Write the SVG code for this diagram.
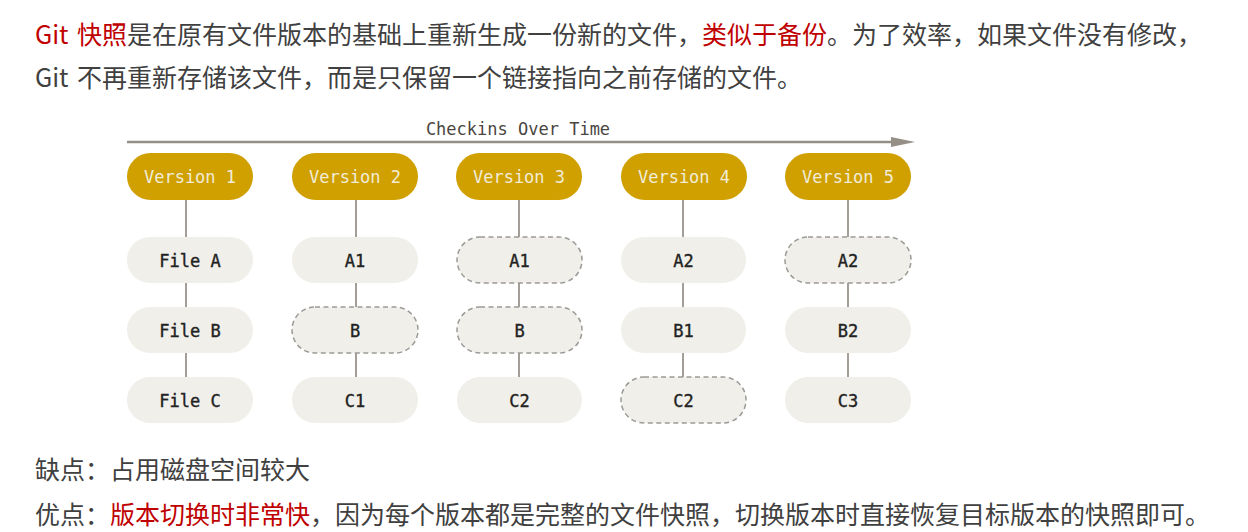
<svg xmlns="http://www.w3.org/2000/svg" width="1248" height="532" viewBox="0 0 1248 532">
<style>
.para{font-family:"Noto Sans CJK SC","Noto Sans",sans-serif;font-size:25px;fill:#404040}
.red{fill:#c00000}
.ver rect{fill:#cfa000}
.ver text{font-family:"DejaVu Sans Mono",monospace;font-size:17px;fill:#f2ecd8;text-anchor:middle}
.file rect{fill:#f0efe9}
.file.dash rect{stroke:#9c9a96;stroke-width:1.5;stroke-dasharray:5 3.5}
.file text{font-family:"DejaVu Sans Mono",monospace;font-size:17px;fill:#222222;stroke:#222222;stroke-width:0.35;text-anchor:middle}
.conn line{stroke:#a39e98;stroke-width:2}
.axis{stroke:#958f88;stroke-width:2.5}
.title{font-family:"DejaVu Sans Mono",monospace;font-size:17px;fill:#4a4540;text-anchor:middle}
</style>
<rect width="1248" height="532" fill="#ffffff"/>
<g id="intro">
<text class="para" y="44"><tspan x="35" class="red">Git</tspan><tspan x="77" class="red">快照</tspan>是在原有文件版本的基础上重新生成一份新的文件，<tspan class="red">类似于备份</tspan>。为了效率，如果文件没有修改，</text>
<text class="para" y="87"><tspan x="35">Git</tspan><tspan x="77">不再重新存储该文件，而是只保留一个链接指向之前存储的文件。</tspan></text>
</g>
<g id="timeline">
<line class="axis" x1="127" y1="142" x2="893" y2="142"/>
<path d="M891,137 L915,142 L891,147 z" fill="#958f88"/>
<text class="title" x="518" y="135">Checkins Over Time</text>
</g>
<g id="connectors" class="conn">
<line x1="186" y1="200" x2="186" y2="237"/>
<line x1="186" y1="283" x2="186" y2="307"/>
<line x1="186" y1="353" x2="186" y2="377"/>
<line x1="356" y1="200" x2="356" y2="237"/>
<line x1="356" y1="283" x2="356" y2="307"/>
<line x1="356" y1="353" x2="356" y2="377"/>
<line x1="519" y1="200" x2="519" y2="237"/>
<line x1="519" y1="283" x2="519" y2="307"/>
<line x1="519" y1="353" x2="519" y2="377"/>
<line x1="683" y1="200" x2="683" y2="237"/>
<line x1="683" y1="283" x2="683" y2="307"/>
<line x1="683" y1="353" x2="683" y2="377"/>
<line x1="848" y1="200" x2="848" y2="237"/>
<line x1="848" y1="283" x2="848" y2="307"/>
<line x1="848" y1="353" x2="848" y2="377"/>
</g>
<g id="v1" class="ver"><rect x="127" y="153" width="126" height="47" rx="23.5"/><text x="190" y="183">Version 1</text></g>
<g id="v2" class="ver"><rect x="292" y="153" width="126" height="47" rx="23.5"/><text x="355" y="183">Version 2</text></g>
<g id="v3" class="ver"><rect x="456" y="153" width="126" height="47" rx="23.5"/><text x="519" y="183">Version 3</text></g>
<g id="v4" class="ver"><rect x="621" y="153" width="126" height="47" rx="23.5"/><text x="684" y="183">Version 4</text></g>
<g id="v5" class="ver"><rect x="785" y="153" width="126" height="47" rx="23.5"/><text x="848" y="183">Version 5</text></g>

<g id="v1-a" class="file"><rect x="127" y="237" width="126" height="46" rx="23"/><text x="190" y="266.5">File A</text></g>
<g id="v1-b" class="file"><rect x="127" y="307" width="126" height="46" rx="23"/><text x="190" y="336.5">File B</text></g>
<g id="v1-c" class="file"><rect x="127" y="377" width="126" height="46" rx="23"/><text x="190" y="406.5">File C</text></g>

<g id="v2-a" class="file"><rect x="292" y="237" width="126" height="46" rx="23"/><text x="355" y="266.5">A1</text></g>
<g id="v2-b" class="file dash"><rect x="292" y="307" width="126" height="46" rx="23"/><text x="355" y="336.5">B</text></g>
<g id="v2-c" class="file"><rect x="292" y="377" width="126" height="46" rx="23"/><text x="355" y="406.5">C1</text></g>

<g id="v3-a" class="file dash"><rect x="457" y="237" width="125" height="46" rx="23"/><text x="519.5" y="266.5">A1</text></g>
<g id="v3-b" class="file dash"><rect x="457" y="307" width="125" height="46" rx="23"/><text x="519.5" y="336.5">B</text></g>
<g id="v3-c" class="file"><rect x="457" y="377" width="125" height="46" rx="23"/><text x="519.5" y="406.5">C2</text></g>

<g id="v4-a" class="file"><rect x="621" y="237" width="125" height="46" rx="23"/><text x="683.5" y="266.5">A2</text></g>
<g id="v4-b" class="file"><rect x="621" y="307" width="125" height="46" rx="23"/><text x="683.5" y="336.5">B1</text></g>
<g id="v4-c" class="file dash"><rect x="621" y="377" width="125" height="46" rx="23"/><text x="683.5" y="406.5">C2</text></g>

<g id="v5-a" class="file dash"><rect x="785" y="237" width="126" height="46" rx="23"/><text x="848" y="266.5">A2</text></g>
<g id="v5-b" class="file"><rect x="785" y="307" width="126" height="46" rx="23"/><text x="848" y="336.5">B2</text></g>
<g id="v5-c" class="file"><rect x="785" y="377" width="126" height="46" rx="23"/><text x="848" y="406.5">C3</text></g>

<g id="notes">
<text class="para" x="35" y="479">缺点：占用磁盘空间较大</text>
<text class="para" x="35" y="524">优点：<tspan class="red">版本切换时非常快</tspan>，因为每个版本都是完整的文件快照，切换版本时直接恢复目标版本的快照即可。</text>
</g>
</svg>
